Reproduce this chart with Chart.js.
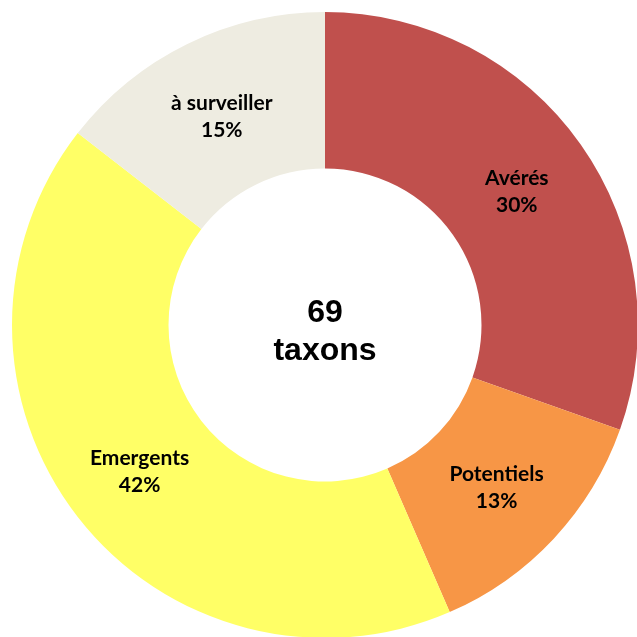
<!DOCTYPE html>
<html><head><meta charset="utf-8">
<script src="https://cdn.jsdelivr.net/npm/chart.js@4.4.1/dist/chart.umd.min.js"></script>
<style>html,body{margin:0;padding:0;background:#fff;overflow:hidden;width:637px;height:637px}
#wrap{position:absolute;left:0;top:0;width:650px;height:650px}</style>
</head><body>
<div id="wrap"><canvas id="c" width="650" height="650"></canvas></div>
<script>
const categories = ["Avérés", "Potentiels", "Emergents", "à surveiller"];
const counts = [21, 9, 29, 10];
const percentLabels = ["30%", "13%", "42%", "15%"];
const colors = ["#C0504D", "#F79646", "#FFFF66", "#EEECE1"];
const totalLabel = "69";
const totalUnit = "taxons";

const labelPlugin = {
  id: 'lbl',
  afterDatasetsDraw(chart) {
    const ctx = chart.ctx;
    const meta = chart.getDatasetMeta(0);
    ctx.save();
    ctx.fillStyle = '#000';
    ctx.textAlign = 'center';
    ctx.textBaseline = 'middle';
    ctx.font = 'bold 21px Lato, "Open Sans", sans-serif';
    meta.data.forEach((arc, i) => {
      const p = arc.getCenterPoint();
      ctx.fillText(categories[i], p.x, p.y - 11);
      ctx.fillText(percentLabels[i], p.x, p.y + 16);
    });
    const a = meta.data[0];
    ctx.font = 'bold 32px "Liberation Sans", Arial, sans-serif';
    ctx.fillText(totalLabel, a.x, a.y - 12);
    ctx.fillText(totalUnit, a.x, a.y + 26);
    ctx.restore();
  }
};

new Chart(document.getElementById('c'), {
  type: 'doughnut',
  data: { labels: categories, datasets: [{ data: counts, backgroundColor: colors, borderWidth: 0 }] },
  options: {
    responsive: false, animation: false, cutout: '50%',
    layout: { padding: 12 },
    plugins: { legend: { display: false }, tooltip: { enabled: false } }
  },
  plugins: [labelPlugin]
});
</script>
</body></html>
